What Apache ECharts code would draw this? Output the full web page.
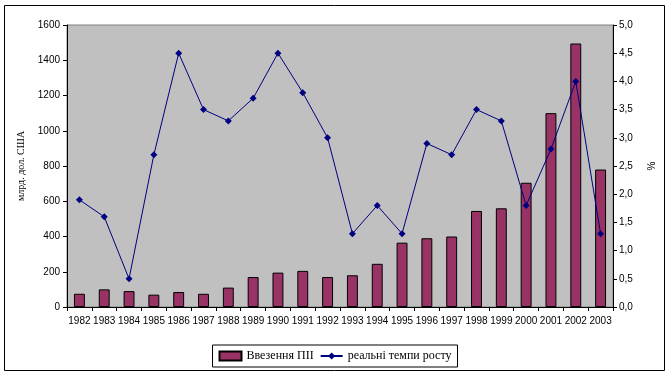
<!DOCTYPE html>
<html>
<head>
<meta charset="utf-8">
<script src="https://cdn.jsdelivr.net/npm/echarts@6/dist/echarts.min.js"></script>
<style>
  body { margin: 0; background: #fff; }
  #main { width: 670px; height: 376px; }
</style>
</head>
<body>
<div id="main"></div>
<script type="text/javascript">
  // роки
  var years = ['1982','1983','1984','1985','1986','1987','1988','1989','1990','1991','1992',
               '1993','1994','1995','1996','1997','1998','1999','2000','2001','2002','2003'];
  // Ввезення ПІІ, млрд. дол. США
  var fdi = [75, 100, 90, 70, 85, 75, 110, 170, 195, 205, 170,
             180, 245, 365, 390, 400, 545, 560, 705, 1100, 1495, 780];
  // реальні темпи росту, %
  var growth = [1.9, 1.6, 0.5, 2.7, 4.5, 3.5, 3.3, 3.7, 4.5, 3.8, 3.0,
                1.3, 1.8, 1.3, 2.9, 2.7, 3.5, 3.3, 1.8, 2.8, 4.0, 1.3];

  var myChart = echarts.init(document.getElementById('main'));
  var axisFont = { fontFamily: 'Liberation Sans', fontSize: 10, color: '#000' };

  var option = {
    animation: false,
    graphic: [
      { type: 'rect', shape: { x: 4.5, y: 5.5, width: 660, height: 365 },
        style: { fill: 'none', stroke: '#000', lineWidth: 1 }, z: -1 }
    ],
    grid: {
      left: 67, top: 25, right: 57, bottom: 69,
      show: true, backgroundColor: '#c0c0c0', borderColor: '#808080', borderWidth: 1
    },
    legend: {
      bottom: 9, left: 'center',
      itemWidth: 22, itemHeight: 9, itemGap: 6,
      padding: [5, 6, 5, 6],
      borderColor: '#000', borderWidth: 1,
      textStyle: { fontFamily: 'Liberation Serif', fontSize: 12, color: '#000' },
      data: [
        { name: 'Ввезення ПІІ', icon: 'rect' },
        { name: 'реальні темпи росту' }
      ]
    },
    xAxis: {
      type: 'category',
      data: years,
      axisLine: { lineStyle: { color: '#000' } },
      axisTick: { show: true, alignWithLabel: false, length: 4, lineStyle: { color: '#000' } },
      axisLabel: Object.assign({ interval: 0, margin: 9 }, axisFont),
      splitLine: { show: false }
    },
    yAxis: [
      {
        type: 'value', min: 0, max: 1600, interval: 200,
        name: 'млрд. дол. США', nameLocation: 'middle', nameGap: 36, nameRotate: 90,
        nameTextStyle: { fontFamily: 'Liberation Serif', fontSize: 10, color: '#000' },
        axisLine: { show: true, lineStyle: { color: '#000' } },
        axisTick: { show: true, length: 4, lineStyle: { color: '#000' } },
        axisLabel: Object.assign({ margin: 7, formatter: function (v) { return String(v); } }, axisFont),
        splitLine: { show: false }
      },
      {
        type: 'value', min: 0, max: 5, interval: 0.5,
        name: '%', nameLocation: 'middle', nameGap: 34, nameRotate: 90,
        nameTextStyle: { fontFamily: 'Liberation Sans', fontSize: 10, color: '#000' },
        axisLine: { show: true, lineStyle: { color: '#000' } },
        axisTick: { show: true, length: 4, lineStyle: { color: '#000' } },
        axisLabel: Object.assign({ margin: 6, formatter: function (v) { return v.toFixed(1).replace('.', ','); } }, axisFont),
        splitLine: { show: false }
      }
    ],
    series: [
      {
        name: 'Ввезення ПІІ',
        type: 'bar',
        data: fdi,
        barWidth: '44%',
        itemStyle: { color: '#993366', borderColor: '#000', borderWidth: 1 }
      },
      {
        name: 'реальні темпи росту',
        type: 'line',
        yAxisIndex: 1,
        data: growth,
        symbol: 'diamond',
        symbolSize: 7,
        lineStyle: { color: '#000080', width: 1 },
        itemStyle: { color: '#000080' }
      }
    ]
  };
  myChart.setOption(option);
</script>
</body>
</html>
